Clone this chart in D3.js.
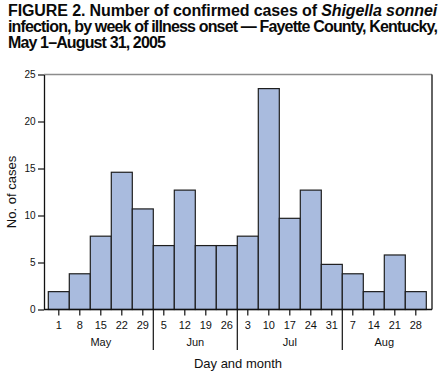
<!DOCTYPE html>
<html>
<head>
<meta charset="utf-8">
<script src="https://cdn.jsdelivr.net/npm/d3@7"></script>
<style>
  body { margin: 0; background: #fff; }
  svg { display: block; font-family: "Liberation Sans", Arial, sans-serif; }
</style>
</head>
<body>
<script>
const weeks = ["1", "8", "15", "22", "29", "5", "12", "19", "26", "3", "10", "17", "24", "31", "7", "14", "21", "28"];
const weekMonth = ["May", "May", "May", "May", "May", "Jun", "Jun", "Jun", "Jun", "Jul", "Jul", "Jul", "Jul", "Jul", "Aug", "Aug", "Aug", "Aug"];
const cases = [1.9, 3.8, 7.8, 14.6, 10.7, 6.8, 12.7, 6.8, 6.8, 7.8, 23.5, 9.7, 12.7, 4.8, 3.8, 1.9, 5.8, 1.9];
const yTicks = [0, 5, 10, 15, 20, 25];
const months = ["May", "Jun", "Jul", "Aug"];

const W = 444, H = 375;
const frame = { left: 44, right: 432, top: 74.5, bottom: 309.5 };

const svg = d3.select("body").append("svg")
    .attr("width", W)
    .attr("height", H);

// title, three lines, squeezed to the widths seen in the figure
const titleLines = [
    { y: 15.7, width: 429, parts: [["FIGURE 2. Number of confirmed cases of ", "normal"], ["Shigella sonnei", "italic"]] },
    { y: 31.6, width: 429, parts: [["infection, by week of illness onset \u2014 Fayette County, Kentucky,", "normal"]] },
    { y: 48.2, width: 157, parts: [["May 1\u2013August 31, 2005", "normal"]] }
];

titleLines.forEach(line => {
    const t = svg.append("text")
        .attr("x", 8)
        .attr("y", line.y)
        .style("font-size", "16px")
        .style("font-weight", "bold")
        .style("fill", "#0a0a0a");
    line.parts.forEach(p => t.append("tspan").style("font-style", p[1]).text(p[0]));
    const w0 = t.node().getComputedTextLength();
    const n = line.parts.map(p => p[0]).join("").length;
    t.style("letter-spacing", ((line.width - w0) / n) + "px");
});

const x = d3.scaleBand()
    .domain(d3.range(weeks.length))
    .range([48.3, 426.3])
    .padding(0);

const y = d3.scaleLinear()
    .domain([0, 25])
    .range([frame.bottom, frame.top]);

// bars
svg.append("g").selectAll("rect")
    .data(cases)
    .enter()
    .append("rect")
    .attr("x", (d, i) => x(i))
    .attr("y", d => y(d))
    .attr("width", x.bandwidth())
    .attr("height", d => y(0) - y(d))
    .style("fill", "#a9bbde")
    .style("stroke", "#1e1e1e")
    .style("stroke-width", 1.2);

// frame: top grey, right black
svg.append("line")
    .attr("x1", frame.left).attr("x2", frame.right)
    .attr("y1", frame.top).attr("y2", frame.top)
    .style("stroke", "#8c8c8c").style("stroke-width", 1.3);
svg.append("line")
    .attr("x1", frame.right).attr("x2", frame.right)
    .attr("y1", frame.top).attr("y2", frame.bottom)
    .style("stroke", "#111").style("stroke-width", 1.3);
svg.append("line")
    .attr("x1", frame.left).attr("x2", frame.right)
    .attr("y1", frame.bottom).attr("y2", frame.bottom)
    .style("stroke", "#111").style("stroke-width", 1.3);

// y axis
const yAxis = svg.append("g")
    .attr("transform", `translate(${frame.left},0)`)
    .call(d3.axisLeft(y).tickValues(yTicks).tickSize(6).tickSizeOuter(0).tickPadding(2.5));
yAxis.select(".domain").style("stroke", "#111").style("stroke-width", 1.3);
yAxis.selectAll(".tick line").style("stroke", "#111").style("stroke-width", 1.2);
yAxis.selectAll(".tick text")
    .style("font-size", "10px")
    .style("font-family", "\"Liberation Sans\", Arial, sans-serif")
    .style("fill", "#111");

// x axis
const xAxis = svg.append("g")
    .attr("transform", `translate(0,${frame.bottom})`)
    .call(d3.axisBottom(x).tickFormat(i => weeks[i]).tickSize(6).tickSizeOuter(0).tickPadding(6));
xAxis.select(".domain").remove();
xAxis.selectAll(".tick line").style("stroke", "#111").style("stroke-width", 1.2);
xAxis.selectAll(".tick text")
    .style("font-size", "11px")
    .style("font-family", "\"Liberation Sans\", Arial, sans-serif")
    .style("fill", "#111");

// month separators and labels
months.forEach((m, k) => {
    const idx = weekMonth.map((d, i) => d === m ? i : -1).filter(i => i >= 0);
    const x0 = x(idx[0]);
    const x1 = x(idx[idx.length - 1]) + x.bandwidth();
    if (k > 0) {
        svg.append("line")
            .attr("x1", x0).attr("x2", x0)
            .attr("y1", frame.bottom).attr("y2", 350)
            .style("stroke", "#111").style("stroke-width", 1.2);
    }
    svg.append("text")
        .attr("x", (x0 + x1) / 2)
        .attr("y", 346)
        .attr("text-anchor", "middle")
        .style("font-size", "11px")
        .style("fill", "#111")
        .text(m);
});

// axis titles
svg.append("text")
    .attr("x", (frame.left + frame.right) / 2)
    .attr("y", 368)
    .attr("text-anchor", "middle")
    .style("font-size", "13px")
    .style("fill", "#111")
    .text("Day and month");

svg.append("text")
    .attr("transform", `translate(16,${(frame.top + frame.bottom) / 2}) rotate(-90)`)
    .attr("text-anchor", "middle")
    .style("font-size", "13px")
    .style("fill", "#111")
    .text("No. of cases");
</script>
</body>
</html>
